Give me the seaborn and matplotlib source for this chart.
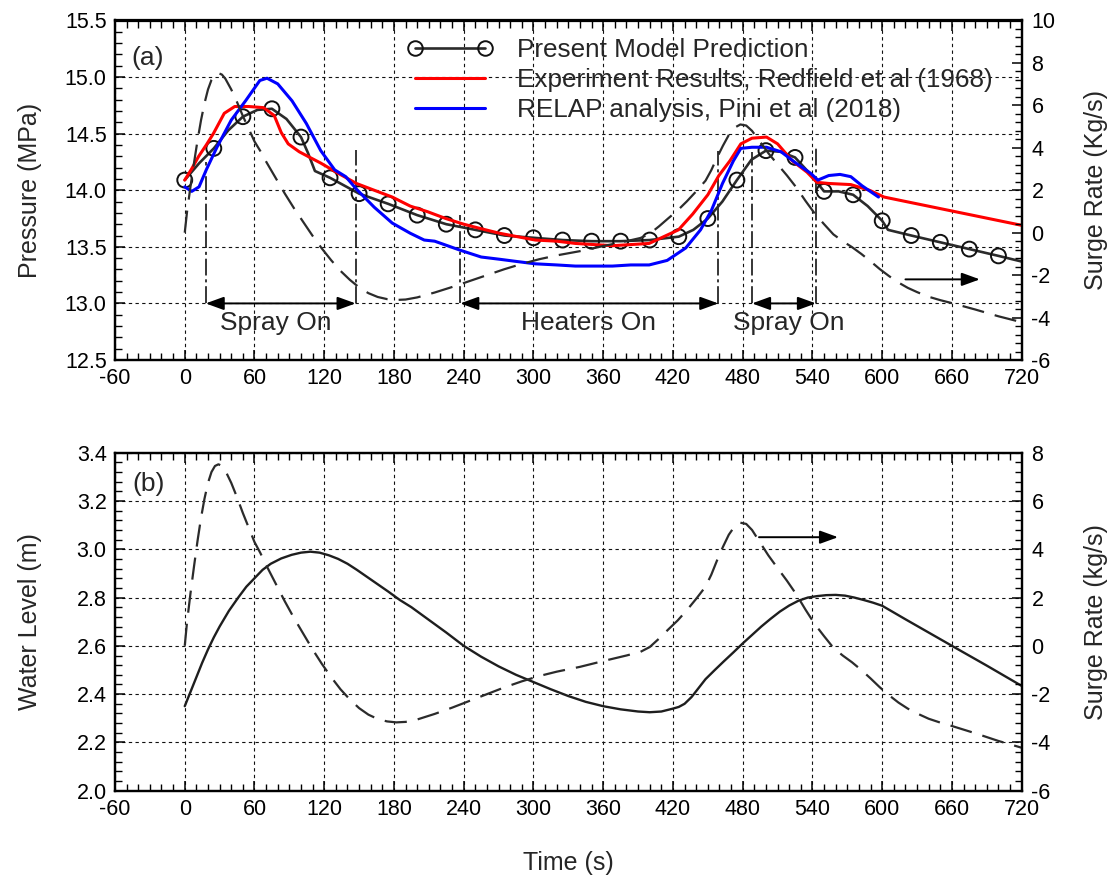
import numpy as np
import pandas as pd
import matplotlib
matplotlib.use("Agg")
import matplotlib.pyplot as plt
from matplotlib.lines import Line2D
from matplotlib.ticker import MultipleLocator, FormatStrFormatter
import seaborn as sns

# ---------------- data ----------------
# Present model prediction (pressure, MPa)
t_model = [0, 5, 12.5, 25, 37.5, 50, 62.5, 75, 87.5, 100, 106, 112, 125, 137.5, 150,
           175, 200, 225, 250, 275, 300, 325, 350, 375, 400, 425, 437.5, 450, 462.5,
           475, 487.5, 500, 512.5, 525, 537.5, 550, 562.5, 575, 587.5, 600, 605,
           625, 650, 675, 700, 720]
p_model = [14.09, 14.15, 14.24, 14.37, 14.53, 14.65, 14.71, 14.72, 14.63, 14.47, 14.33,
           14.17, 14.11, 14.04, 13.97, 13.88, 13.78, 13.70, 13.65, 13.60, 13.58, 13.56,
           13.55, 13.55, 13.56, 13.59, 13.65, 13.75, 13.90, 14.09, 14.27, 14.35, 14.34,
           14.29, 14.15, 13.99, 13.99, 13.96, 13.86, 13.73, 13.65, 13.60, 13.54, 13.48,
           13.42, 13.37]
marker_step = 25

# Experiment results, Redfield et al (1968)
t_exp = [0, 6, 12, 18.5, 24.6, 34, 43, 55, 67.7, 77, 83, 89, 98.5, 107.7, 117, 132,
         147.7, 163, 178.5, 194, 209, 224.6, 240, 255, 270.8, 286, 301.5, 320, 336,
         368, 399.5, 424.7, 437, 450, 459.5, 469, 478.4, 488, 500.5, 510, 522.6, 535.3,
         543.8, 554, 573, 589, 601.6, 620.5, 639.5, 658.4, 677.4, 696.3, 720]
p_exp = [14.09, 14.19, 14.30, 14.40, 14.50, 14.68, 14.74, 14.74, 14.73, 14.66, 14.51,
         14.41, 14.34, 14.29, 14.24, 14.15, 14.06, 14.00, 13.94, 13.86, 13.81, 13.75,
         13.70, 13.66, 13.62, 13.59, 13.56, 13.55, 13.53, 13.51, 13.53, 13.65, 13.79,
         13.96, 14.13, 14.26, 14.41, 14.46, 14.47, 14.41, 14.26, 14.16, 14.07, 14.06,
         14.05, 14.00, 13.94, 13.90, 13.86, 13.82, 13.78, 13.74, 13.69]

# RELAP analysis, Pini et al (2018)
t_rel = [0, 6, 12.3, 18.5, 27.7, 40, 52.3, 64.6, 70.8, 80, 92.3, 104.6, 117, 129, 138.5,
         147.7, 163, 178.5, 194, 206, 215, 237, 255, 271, 286, 301.5, 320, 336, 368,
         383.7, 399.5, 415, 431, 443.7, 453, 462.6, 472, 478.4, 488, 500.5, 513, 525.8,
         538.4, 544.7, 554, 563.7, 573, 582.6, 596.8]
p_rel = [14.03, 13.99, 14.03, 14.18, 14.38, 14.62, 14.79, 14.97, 14.99, 14.94, 14.79,
         14.59, 14.35, 14.18, 14.12, 14.01, 13.85, 13.71, 13.62, 13.56, 13.55, 13.47,
         13.41, 13.39, 13.37, 13.35, 13.34, 13.33, 13.33, 13.34, 13.34, 13.38, 13.49,
         13.65, 13.82, 14.06, 14.26, 14.37, 14.38, 14.38, 14.34, 14.24, 14.15, 14.09,
         14.13, 14.14, 14.12, 14.04, 13.94]

# Surge rate (kg/s)
t_surge = [0, 2, 5, 8, 11, 14, 17, 20, 23, 26, 29, 32, 35, 40, 45, 50, 55, 60, 65, 70,
           78, 86, 94, 102, 110, 118, 126, 134, 142, 150, 158, 166, 174, 182, 190, 200,
           215, 230, 245, 260, 275, 290, 305, 320, 340, 360, 380, 392, 400, 408, 416,
           424, 432, 440, 448, 453, 458, 463, 468, 473, 478, 483, 488, 494, 502, 510,
           518, 526, 534, 542, 550, 558, 566, 574, 582, 590, 598, 606, 614, 622, 630,
           640, 650, 660, 670, 680, 690, 700, 710, 720]
s_surge = [0.0, 1.0, 2.2, 3.3, 4.35, 5.3, 6.1, 6.75, 7.2, 7.45, 7.52, 7.45, 7.25, 6.75,
           6.15, 5.5, 4.9, 4.3, 3.85, 3.35, 2.6, 1.85, 1.15, 0.5, -0.15, -0.75, -1.3,
           -1.8, -2.22, -2.58, -2.85, -3.03, -3.13, -3.17, -3.15, -3.05, -2.82, -2.56,
           -2.28, -2.0, -1.72, -1.47, -1.25, -1.07, -0.87, -0.63, -0.4, -0.25, -0.05,
           0.3, 0.68, 1.05, 1.48, 1.95, 2.45, 2.95, 3.55, 4.1, 4.6, 4.95, 5.1, 5.05, 4.8,
           4.35, 3.75, 3.22, 2.7, 2.14, 1.5, 0.9, 0.4, -0.08, -0.4, -0.68, -1.0, -1.35,
           -1.72, -2.05, -2.35, -2.6, -2.8, -3.02, -3.18, -3.32, -3.47, -3.62, -3.78,
           -3.94, -4.08, -4.22]

# Water level (m)
t_wl = [0, 5, 10, 15, 20, 25, 30, 38, 46, 53, 60, 67, 74, 83, 92, 100, 108, 116, 124,
        132, 140, 148, 157, 166, 175, 185, 195, 205, 215, 225, 240, 255, 270, 285, 300,
        315, 330, 345, 360, 375, 390, 400, 410, 420, 425, 430, 436, 442, 448, 456, 464,
        472, 480, 488, 496, 504, 512, 520, 528, 536, 544, 552, 560, 568, 576, 584, 592,
        600, 620, 660, 690, 720]
wl = [2.35, 2.41, 2.47, 2.53, 2.585, 2.635, 2.68, 2.745, 2.80, 2.845, 2.88, 2.915, 2.94,
      2.962, 2.977, 2.986, 2.99, 2.986, 2.975, 2.96, 2.94, 2.915, 2.885, 2.855, 2.825,
      2.79, 2.76, 2.725, 2.69, 2.655, 2.60, 2.555, 2.515, 2.48, 2.45, 2.42, 2.392, 2.368,
      2.35, 2.337, 2.328, 2.325, 2.328, 2.34, 2.347, 2.36, 2.388, 2.425, 2.462, 2.50,
      2.537, 2.573, 2.61, 2.645, 2.68, 2.712, 2.742, 2.767, 2.787, 2.80, 2.806, 2.81,
      2.811, 2.808, 2.80, 2.79, 2.779, 2.766, 2.71, 2.60, 2.518, 2.434]

# Event annotations (time intervals, s)
event_labels = ["Spray On", "Heaters On", "Spray On"]
event_start = [18, 237, 488]
event_end = [147, 459, 543]
event_start_top = [14.25, 13.78, 14.34]
event_end_top = [14.36, 14.35, 14.38]
event_text_t = [78, 347, 520]

legend_labels = ["Present Model Prediction",
                 "Experiment Results, Redfield et al (1968)",
                 "RELAP analysis, Pini et al (2018)"]

# ---------------- style ----------------
sns.set_theme(style="white")
plt.rcParams['font.family'] = ['Liberation Sans', 'DejaVu Sans']
plt.rcParams['axes.unicode_minus'] = False
plt.rcParams['axes.linewidth'] = 1.6

W, H = 1114, 875
fig = plt.figure(figsize=(W / 100, H / 100), dpi=100)
L, R = 115 / W, 1021.7 / W
ax1 = fig.add_axes([L, (H - 360) / H, R - L, 339.5 / H])
ax2 = fig.add_axes([L, (H - 790.7) / H, R - L, 338 / H])
ax1r = ax1.twinx()
ax2r = ax2.twinx()

dark = '#2b2b2b'
dash_style = (0, (10, 5))

df_model = pd.DataFrame({'t': t_model, 'p': p_model})
df_mark = df_model[df_model['t'] % marker_step == 0]

# top panel
sns.lineplot(x=t_model, y=p_model, ax=ax1, color=dark, lw=1.9, sort=False,
             errorbar=None, zorder=3)
sns.scatterplot(data=df_mark, x='t', y='p', ax=ax1, marker='o', s=115,
                linewidth=1.4, zorder=4)
ax1.collections[-1].set_facecolor('none')
ax1.collections[-1].set_edgecolor('#111111')
sns.lineplot(x=t_exp, y=p_exp, ax=ax1, color='#ff0000', lw=2.2, sort=False,
             errorbar=None, zorder=5)
sns.lineplot(x=t_rel, y=p_rel, ax=ax1, color='#0000ff', lw=2.2, sort=False,
             errorbar=None, zorder=6)
sns.lineplot(x=t_surge, y=s_surge, ax=ax1r, color=dark, lw=1.6, sort=False,
             errorbar=None, linestyle=dash_style)

# bottom panel
sns.lineplot(x=t_wl, y=wl, ax=ax2, color='#1e1e1e', lw=1.7, sort=False, errorbar=None)
sns.lineplot(x=t_surge, y=s_surge, ax=ax2r, color=dark, lw=1.6, sort=False,
             errorbar=None, linestyle=dash_style)

# axes formatting
for ax, ylo, yhi, major, minor in [(ax1, 12.5, 15.5, 0.5, 0.1), (ax2, 2.0, 3.4, 0.2, 0.04)]:
    ax.set_xlim(-60, 720)
    ax.set_ylim(ylo, yhi)
    ax.xaxis.set_major_locator(MultipleLocator(60))
    ax.xaxis.set_minor_locator(MultipleLocator(10))
    ax.yaxis.set_major_locator(MultipleLocator(major))
    ax.yaxis.set_minor_locator(MultipleLocator(minor))
    ax.yaxis.set_major_formatter(FormatStrFormatter('%.1f'))
    ax.grid(True, which='major', color='#111111', linestyle=(0, (3, 3)), lw=0.8)
    ax.tick_params(axis='both', which='both', direction='in', top=True, right=False,
                   left=True, bottom=True, labelsize=15.5, pad=6, colors='black')
    ax.tick_params(which='major', length=7, width=1.1)
    ax.tick_params(which='minor', length=5, width=1.0)
    ax.set_xlabel('')
    ax.set_ylabel('')
    for sp in ax.spines.values():
        sp.set_color('black')
        sp.set_linewidth(1.6)

for axr, ylo, yhi in [(ax1r, -6, 10), (ax2r, -6, 8)]:
    axr.set_ylim(ylo, yhi)
    axr.yaxis.set_major_locator(MultipleLocator(2))
    axr.yaxis.set_minor_locator(MultipleLocator(0.4))
    axr.tick_params(axis='y', which='both', direction='in', right=True, left=False,
                    labelsize=15.5, pad=7, colors='black')
    axr.tick_params(which='major', length=7, width=1.1)
    axr.tick_params(which='minor', length=5, width=1.0)
    axr.grid(False)
    axr.set_ylabel('')
    for sp in axr.spines.values():
        sp.set_linewidth(1.6)
        sp.set_color('black')

ax1.set_ylabel('Pressure (MPa)', fontsize=18)
ax2.set_ylabel('Water Level (m)', fontsize=18)
ax1r.set_ylabel('Surge Rate (Kg/s)', fontsize=18)
ax2r.set_ylabel('Surge Rate (kg/s)', fontsize=18)
for ax, xpix in [(ax1, 30), (ax2, 30), (ax1r, 1096), (ax2r, 1096)]:
    ax.yaxis.set_label_coords((xpix - 115) / 906.7, 0.5)
    lab = ax.yaxis.label
    lab.set_rotation(90)
    lab.set_rotation_mode('anchor')
    lab.set_ha('center')
    lab.set_va('center')
ax2.set_xlabel('Time (s)', fontsize=18, labelpad=22)

# panel tags
ax1.text(-32, 15.17, '(a)', fontsize=19, ha='center', va='center')
ax2.text(-31, 3.27, '(b)', fontsize=19, ha='center', va='center')

# event markers
vstyle = (0, (11, 2.5, 2, 2.5))
for lab, t0, t1, y0, y1, tt in zip(event_labels, event_start, event_end,
                                   event_start_top, event_end_top, event_text_t):
    ax1.plot([t0, t0], [13.0, y0], color='black', lw=1.1, linestyle=vstyle, zorder=2)
    ax1.plot([t1, t1], [13.0, y1], color='black', lw=1.1, linestyle=vstyle, zorder=2)
    ax1.annotate('', xy=(t1, 13.0), xytext=(t0, 13.0),
                 arrowprops=dict(arrowstyle='<|-|>,head_length=0.55,head_width=0.2',
                                 color='black', lw=1.4, mutation_scale=20,
                                 shrinkA=0, shrinkB=0))
    ax1.text(tt, 12.83, lab, fontsize=19, ha='center', va='center')

# surge-rate axis arrows
ax1r.annotate('', xy=(684, -2.2), xytext=(620, -2.2),
              arrowprops=dict(arrowstyle='-|>,head_length=0.55,head_width=0.2',
                              color='black', lw=1.4, mutation_scale=20,
                              shrinkA=0, shrinkB=0))
ax2r.annotate('', xy=(562, 4.5), xytext=(494, 4.5),
              arrowprops=dict(arrowstyle='-|>,head_length=0.55,head_width=0.2',
                              color='black', lw=1.4, mutation_scale=20,
                              shrinkA=0, shrinkB=0))

# legend
handles = [Line2D([], [], color=dark, lw=1.9, marker='o', markersize=10.5,
                  markerfacecolor='none', markeredgecolor='#111111', markeredgewidth=1.4),
           Line2D([], [], color='#ff0000', lw=2.2),
           Line2D([], [], color='#0000ff', lw=2.2)]
fig.legend(handles, legend_labels, loc='upper left',
           bbox_to_anchor=(407 / W, (H - 38) / H), frameon=False, fontsize=18.8,
           numpoints=2, handlelength=3.3, handletextpad=0.9, labelspacing=0.23,
           borderpad=0, borderaxespad=0)

fig.savefig('out.png', dpi=100)
